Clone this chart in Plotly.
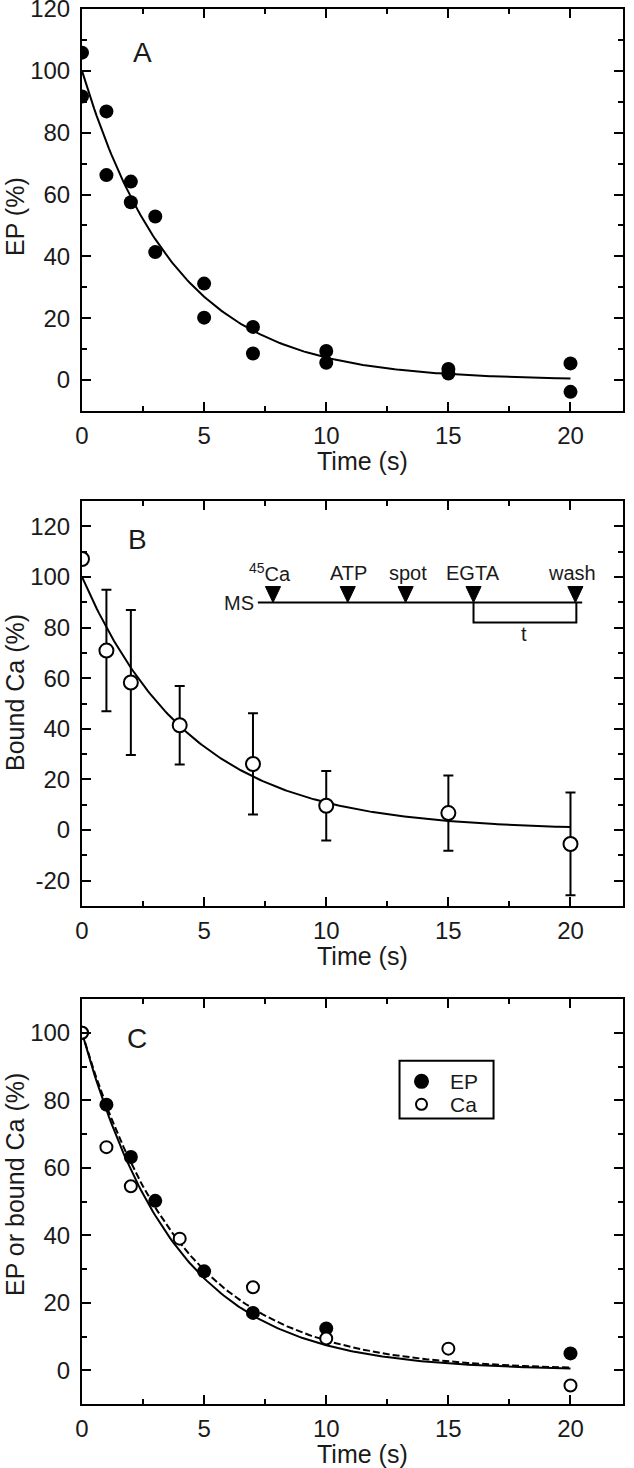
import numpy as np
import plotly.graph_objects as go

# ---------------- data ----------------
# Panel A: EP (%) duplicates
a_time = [0, 0, 1, 1, 2, 2, 3, 3, 5, 5, 7, 7, 10, 10, 15, 15, 20, 20]
a_ep = [105.9, 91.7, 86.9, 66.3, 64.2, 57.5, 52.9, 41.4, 31.2, 20.2,
        17.2, 8.6, 9.4, 5.6, 3.6, 2.1, 5.4, -3.8]
a_fit_amp, a_fit_k = 100.0, 0.262

# Panel B: bound Ca (%) mean +/- error
b_time = [0, 1, 2, 4, 7, 10, 15, 20]
b_ca = [107.1, 70.9, 58.3, 41.4, 26.1, 9.6, 6.7, -5.5]
b_err = [0, 24.0, 28.6, 15.5, 20.0, 13.7, 14.9, 20.3]
b_fit_amp, b_fit_k = 100.0, 0.222

# Panel C: normalised EP and bound Ca
c_ep_time = [0, 1, 2, 3, 5, 7, 10, 20]
c_ep = [100, 78.7, 63.2, 50.2, 29.3, 17.0, 12.4, 5.0]
c_ca_time = [0, 1, 2, 4, 7, 10, 15, 20]
c_ca = [100, 66.1, 54.5, 39.0, 24.6, 9.4, 6.4, -4.5]
c_ep_fit_amp, c_ep_fit_k = 100.0, 0.26
c_ca_fit_amp, c_ca_fit_k = 100.0, 0.243

x_ticks = [0, 5, 10, 15, 20]
ya_ticks = [0, 20, 40, 60, 80, 100, 120]
yb_ticks = [-20, 0, 20, 40, 60, 80, 100, 120]
yc_ticks = [0, 20, 40, 60, 80, 100]
inset_labels = ["<sup>45</sup>Ca", "ATP", "spot", "EGTA", "wash"]
legend_names = ["EP", "Ca"]

# ---------------- figure ----------------
W, H = 634, 1468
FONT = "Liberation Sans, Arial, sans-serif"
TXT = "#1a1a1a"
t_fit = np.linspace(0, 20, 201)

fig = go.Figure()

def fit(amp, k):
    return amp * np.exp(-k * t_fit)

# Panel A
fig.add_trace(go.Scatter(x=t_fit, y=fit(a_fit_amp, a_fit_k), mode="lines",
                         line=dict(color="black", width=2), showlegend=False,
                         xaxis="x", yaxis="y"))
fig.add_trace(go.Scatter(x=a_time, y=a_ep, mode="markers",
                         marker=dict(color="black", size=14), showlegend=False,
                         xaxis="x", yaxis="y"))

# Panel B
fig.add_trace(go.Scatter(x=t_fit, y=fit(b_fit_amp, b_fit_k), mode="lines",
                         line=dict(color="black", width=2), showlegend=False,
                         xaxis="x2", yaxis="y2"))
fig.add_trace(go.Scatter(x=b_time, y=b_ca, mode="markers",
                         marker=dict(color="white", size=14,
                                     line=dict(color="black", width=2)),
                         error_y=dict(type="data", array=b_err, visible=True,
                                      color="black", thickness=2, width=5),
                         showlegend=False, xaxis="x2", yaxis="y2"))

# Panel C
fig.add_trace(go.Scatter(x=t_fit, y=fit(c_ep_fit_amp, c_ep_fit_k), mode="lines",
                         line=dict(color="black", width=2), showlegend=False,
                         xaxis="x3", yaxis="y3"))
fig.add_trace(go.Scatter(x=t_fit, y=fit(c_ca_fit_amp, c_ca_fit_k), mode="lines",
                         line=dict(color="black", width=2, dash="7px,3px"),
                         showlegend=False, xaxis="x3", yaxis="y3"))
fig.add_trace(go.Scatter(x=c_ep_time, y=c_ep, mode="markers", name="EP",
                         marker=dict(color="black", size=14), showlegend=False,
                         xaxis="x3", yaxis="y3"))
fig.add_trace(go.Scatter(x=c_ca_time, y=c_ca, mode="markers", name="Ca",
                         marker=dict(color="white", size=12,
                                     line=dict(color="black", width=2)),
                         showlegend=False, xaxis="x3", yaxis="y3"))

# legend (drawn inside panel C, in its data coordinates)
leg_x = 13.9
leg_y = [85.6, 78.8]
fig.add_trace(go.Scatter(x=[leg_x], y=[leg_y[0]], mode="markers",
                         marker=dict(color="black", size=15), showlegend=False,
                         hoverinfo="skip", xaxis="x3", yaxis="y3"))
fig.add_trace(go.Scatter(x=[leg_x], y=[leg_y[1]], mode="markers",
                         marker=dict(color="white", size=11,
                                     line=dict(color="black", width=2)),
                         showlegend=False, hoverinfo="skip", xaxis="x3", yaxis="y3"))

# ---------------- axes ----------------
def px_x(p):
    return p / W

def px_y(p):
    return 1 - p / H

x_dom = [px_x(82), px_x(623)]
doms = {
    "": [px_y(411), px_y(9)],
    "2": [px_y(906), px_y(501)],
    "3": [px_y(1404), px_y(999)],
}
yranges = {"": [-10, 120.02], "2": [-30, 130], "3": [-10, 110]}
yticks = {"": ya_ticks, "2": yb_ticks, "3": yc_ticks}

common = dict(showline=True, linecolor="black", linewidth=2, mirror="ticks",
              ticks="inside", ticklen=9, tickwidth=2, tickcolor="black",
              showgrid=False, zeroline=False, automargin=False,
              ticklabeloverflow="allow",
              tickfont=dict(family=FONT, size=24, color=TXT))

layout = {}
for s in ["", "2", "3"]:
    layout["xaxis" + s] = dict(common, domain=x_dom, range=[0, 22.15],
                               tickvals=x_ticks, ticklabelstandoff=2,
                               minor=dict(ticks="inside", ticklen=5, tickwidth=2,
                                          tickcolor="black", dtick=2.5, tick0=0),
                               anchor="y" + s)
    layout["yaxis" + s] = dict(common, domain=doms[s], range=yranges[s],
                               tickvals=yticks[s],
                               ticktext=[str(v) for v in yticks[s]],
                               ticklabelstandoff=5,
                               minor=dict(ticks="inside", ticklen=5, tickwidth=2,
                                          tickcolor="black", dtick=10, tick0=0),
                               anchor="x" + s)
fig.update_layout(**layout)

# ---------------- annotations ----------------
ann = []
title_font = dict(family=FONT, size=25, color=TXT)
for s, ytop in [("", 411), ("2", 906), ("3", 1404)]:
    ann.append(dict(text="Time (s)", xref="paper", yref="paper",
                    x=px_x(362), y=px_y(ytop + 50), showarrow=False,
                    font=title_font, xanchor="center", yanchor="middle"))
for txt, yc in [("EP (%)", 217), ("Bound Ca (%)", 693), ("EP or bound Ca (%)", 1185)]:
    ann.append(dict(text=txt, xref="paper", yref="paper", x=px_x(15), y=px_y(yc),
                    textangle=-90, showarrow=False, font=title_font,
                    xanchor="center", yanchor="middle"))
panel_font = dict(family=FONT, size=28, color=TXT)
ann.append(dict(text="A", xref="x", yref="y", x=2.46, y=106, showarrow=False,
                font=panel_font))
ann.append(dict(text="B", xref="x2", yref="y2", x=2.26, y=114.8, showarrow=False,
                font=panel_font))
ann.append(dict(text="C", xref="x3", yref="y3", x=2.26, y=98.2, showarrow=False,
                font=panel_font))

# legend labels
for ly, name in zip(leg_y, legend_names):
    ann.append(dict(text=name, xref="x3", yref="y3", x=14.98, y=ly,
                    xanchor="left", yanchor="middle", showarrow=False,
                    font=dict(family=FONT, size=21, color=TXT)))

# inset scheme in panel B
inset_font = dict(family=FONT, size=20, color=TXT)
arrow_x = [7.82, 10.88, 13.25, 16.03, 20.2]
label_x = [7.69, 10.92, 13.33, 16.0, 20.05]
line_y = 89.9
for lx, txt in zip(label_x, inset_labels):
    ann.append(dict(text=txt, xref="x2", yref="y2", x=lx, y=101.7,
                    showarrow=False, font=inset_font))
ann.append(dict(text="MS", xref="x2", yref="y2", x=7.12, y=line_y, xanchor="right",
                showarrow=False, font=inset_font))
ann.append(dict(text="t", xref="x2", yref="y2", x=18.1, y=77.3,
                showarrow=False, font=inset_font))

shapes = []
shapes.append(dict(type="line", xref="x2", yref="y2", x0=7.2, x1=20.48,
                   y0=line_y, y1=line_y, line=dict(color="black", width=2)))
for ax in arrow_x:
    shapes.append(dict(type="path", xref="x2", yref="y2",
                       path=f"M {ax-0.31},96.2 L {ax+0.31},96.2 L {ax},{line_y} Z",
                       fillcolor="black", line=dict(color="black", width=1)))
shapes.append(dict(type="path", xref="x2", yref="y2",
                   path=f"M 16.03,{line_y} L 16.03,82.0 L 20.24,82.0 L 20.24,{line_y}",
                   line=dict(color="black", width=2)))
# legend box
shapes.append(dict(type="rect", xref="x3", yref="y3", x0=13.0, x1=16.85,
                   y0=74.6, y1=91.7, line=dict(color="black", width=2)))

fig.update_layout(
    width=W, height=H, margin=dict(l=0, r=0, t=0, b=0, autoexpand=False),
    paper_bgcolor="white", plot_bgcolor="white",
    annotations=ann, shapes=shapes, showlegend=False,
)

fig.write_html("out.html",
               config={"displayModeBar": False},
               post_script="document.body.style.margin='0';"
                           "document.body.style.overflow='hidden';")
